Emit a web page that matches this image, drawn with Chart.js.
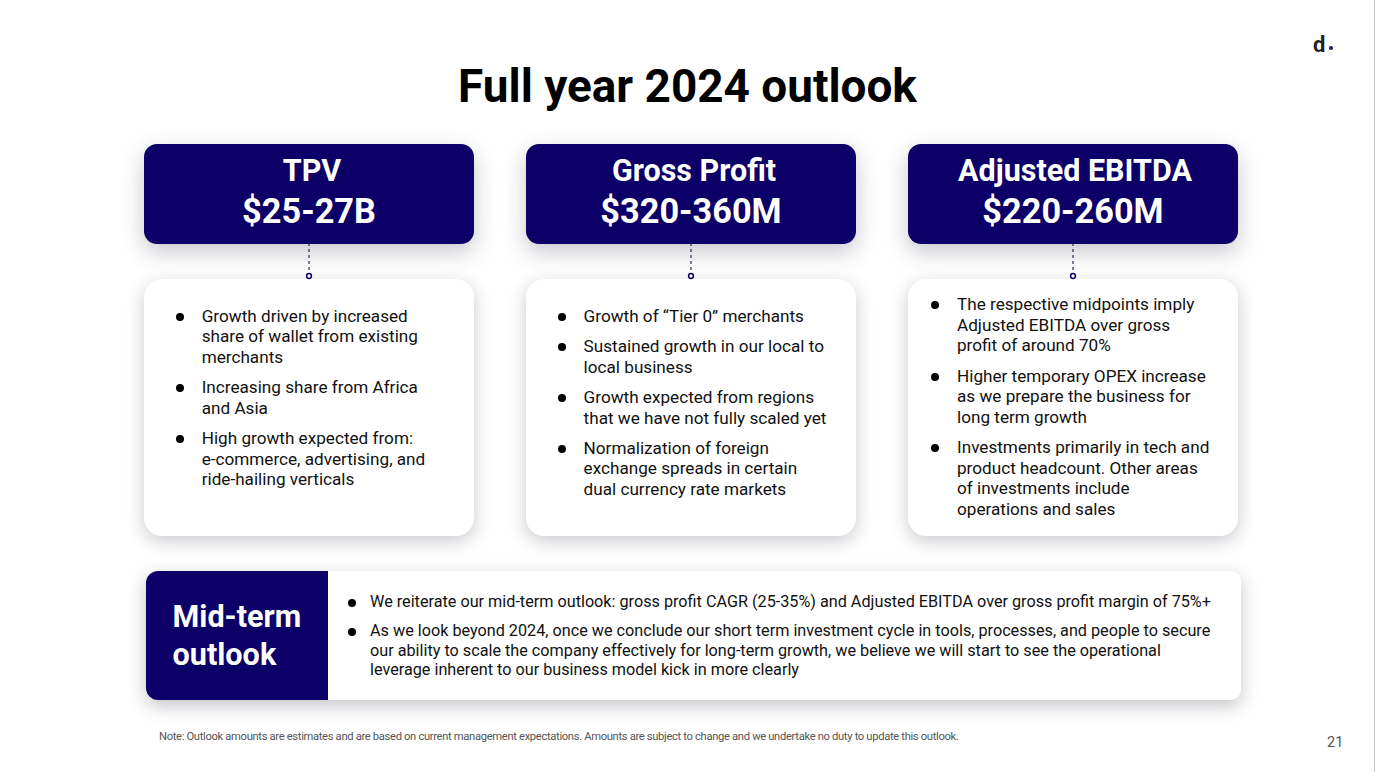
<!DOCTYPE html>
<html><head><meta charset="utf-8">
<script src="https://cdn.jsdelivr.net/npm/chart.js@4"></script>
<style>
html,body{margin:0;padding:0;background:#fff;width:1375px;height:772px;overflow:hidden;font-family:Roboto,sans-serif;color:#111}
.abs{position:absolute;white-space:nowrap}
#rule{left:1374px;top:0;width:1px;height:772px;background:#c8c8c8}
#title{left:0;width:1375px;top:57px;text-align:center;font-size:45.9px;font-weight:700;line-height:58px;color:#000}
.head{width:330px;height:100px;top:144px;background:#0c0068;border-radius:13px;box-shadow:0 8px 22px rgba(30,30,60,.25);color:#fff;text-align:center;font-weight:700}
.head div{position:absolute;left:0;width:330px;line-height:41px}
.card{width:330px;height:257px;top:279px;background:#fff;border-radius:18px;box-shadow:0 5px 18px rgba(30,30,50,.24)}
.li{position:absolute;font-size:17.15px;line-height:20.5px;white-space:nowrap;color:#111}
.li i{position:absolute;width:8px;height:8px;border-radius:50%;background:#000;top:7px}
#mid{left:145.5px;top:571px;width:1095.5px;height:129px;background:#fff;border-radius:10px;box-shadow:0 6px 18px rgba(30,30,50,.26)}
#midL{left:145.5px;top:571px;width:182.5px;height:129px;background:#0c0068;border-radius:12px 0 0 12px;color:#fff;font-weight:700;font-size:30.6px;line-height:38px}
#midL span{position:absolute;left:27px;top:27px}
.mli{font-size:16.22px;line-height:19.3px}
#note{left:159px;top:730px;font-size:11.2px;line-height:14px;color:#555;letter-spacing:-.325px}
#page{left:1327px;top:734px;font-size:14.5px;line-height:18px;color:#555}
#logo{left:1313px;top:32px;font-size:22px;font-weight:700;line-height:26px;color:#222}
#dot{left:1329px;top:46px;width:3.5px;height:3.5px;border-radius:50%;background:#2a2470}
#wrap{position:absolute;left:118px;top:243px;width:1146px;height:40px}
</style></head>
<body>
<div id="rule" class="abs"></div>
<div id="title" class="abs">Full year 2024 outlook</div>
<div id="logo" class="abs">d</div><div id="dot" class="abs"></div>
<div id="cards"></div>
<div id="mid" class="abs"></div>
<div id="midL" class="abs"><span>Mid-term<br>outlook</span></div>
<div id="midList"></div>
<div id="note" class="abs">Note: Outlook amounts are estimates and are based on current management expectations. Amounts are subject to change and we undertake no duty to update this outlook.</div>
<div id="page" class="abs">21</div>
<div id="wrap"><canvas id="c"></canvas></div>
<script>
const categories = ["TPV", "Gross Profit", "Adjusted EBITDA"];
const lows = [25, 320, 220];
const highs = [27, 360, 260];
const units = ["B", "M", "M"];
const tpvBullets = [
  "Growth driven by increased\nshare of wallet from existing\nmerchants",
  "Increasing share from Africa\nand Asia",
  "High growth expected from:\ne-commerce, advertising, and\nride-hailing verticals"];
const gpBullets = [
  "Growth of “Tier 0” merchants",
  "Sustained growth in our local to\nlocal business",
  "Growth expected from regions\nthat we have not fully scaled yet",
  "Normalization of foreign\nexchange spreads in certain\ndual currency rate markets"];
const ebitdaBullets = [
  "The respective midpoints imply\nAdjusted EBITDA over gross\nprofit of around 70%",
  "Higher temporary OPEX increase\nas we prepare the business for\nlong term growth",
  "Investments primarily in tech and\nproduct headcount. Other areas\nof investments include\noperations and sales"];
const midBullets = [
  "We reiterate our mid-term outlook: gross profit CAGR (25-35%) and Adjusted EBITDA over gross profit margin of 75%+",
  "As we look beyond 2024, once we conclude our short term investment cycle in tools, processes, and people to secure\nour ability to scale the company effectively for long-term growth, we believe we will start to see the operational\nleverage inherent to our business model kick in more clearly"];

const cardLefts = [144, 526, 908];
const headNudge = [3, 3, 2];
const bulletSets = [tpvBullets, gpBullets, ebitdaBullets];
const textLefts = [201.7, 583.6, 957];
const dotLefts = [176, 557.6, 931];
const textTops = [305.7, 305.7, 294];
const gaps = [9.9, 9.9, 10];
const host = document.getElementById('cards');
function addList(parent, items, tx, dx, top, cls, lh, gap){
  let y = top;
  items.forEach(t => {
    const lines = t.split('\n');
    const d = document.createElement('div');
    d.className = 'li ' + cls;
    d.style.left = tx + 'px'; d.style.top = y + 'px';
    lines.forEach((l,i)=>{ if(i) d.appendChild(document.createElement('br')); d.appendChild(document.createTextNode(l)); });
    const b = document.createElement('i');
    b.style.left = (dx - tx) + 'px';
    d.appendChild(b);
    parent.appendChild(d);
    y += lines.length * lh + gap;
  });
}
categories.forEach((name,i)=>{
  const h = document.createElement('div');
  h.className = 'abs head'; h.style.left = cardLefts[i] + 'px';
  const a = document.createElement('div'); a.style.top='6px'; a.style.left = headNudge[i]+'px'; a.style.fontSize='30.5px'; a.textContent = name;
  const b = document.createElement('div'); b.style.top='47px'; b.style.fontSize='34.3px'; b.textContent = '$' + lows[i] + '-' + highs[i] + units[i];
  h.append(a,b); host.appendChild(h);
  const c = document.createElement('div');
  c.className = 'abs card'; c.style.left = cardLefts[i] + 'px';
  host.appendChild(c);
  addList(host, bulletSets[i], textLefts[i], dotLefts[i], textTops[i], '', 20.5, gaps[i]);
});
addList(document.getElementById('midList'), midBullets, 370, 348, 592, 'mli', 19.3, 10);

// connectors between the headline boxes and the detail cards
const connectorDatasets = categories.map(name => ({
  type:'line',
  data:[{x:name,y:1},{x:name,y:0}],
  borderColor:'#06003c', borderWidth:1, borderDash:[3,3],
  pointRadius:[0,2.4], pointBorderWidth:1.5,
  pointBackgroundColor:'#fff', pointBorderColor:'#0c0068', fill:false, clip:false
}));
new Chart(document.getElementById('c'),{
  type:'line',
  data:{labels:categories,datasets:connectorDatasets},
  options:{responsive:true,maintainAspectRatio:false,animation:false,
    layout:{autoPadding:false,padding:{left:0,right:0,top:0,bottom:7}},
    plugins:{legend:{display:false},tooltip:{enabled:false}},
    scales:{x:{type:'category',display:false,offset:true},y:{display:false,min:0,max:1}}}
});
</script>
</body></html>
